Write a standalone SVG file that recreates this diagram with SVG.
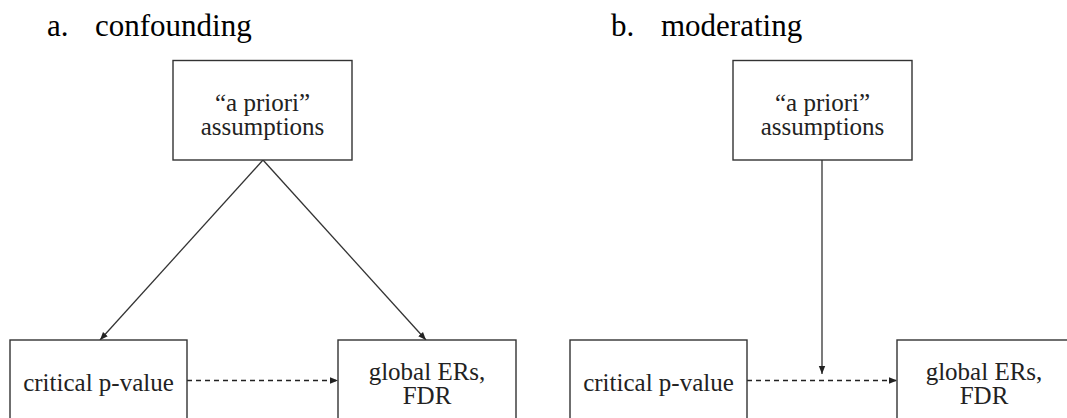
<svg xmlns="http://www.w3.org/2000/svg" width="1067" height="418" viewBox="0 0 1067 418">
<style>
.box{fill:#fff;stroke:#333;stroke-width:1.4}
.t{font-family:"Liberation Serif",serif;font-size:25px;fill:#222;text-anchor:middle}
.title{font-family:"Liberation Serif",serif;font-size:31px;fill:#000}
.c{fill:none;stroke:#333;stroke-width:1.3}
.d{fill:none;stroke:#222;stroke-width:1.3;stroke-dasharray:5 4}
</style>
<defs>
<marker id="ah" viewBox="0 0 10 10" refX="10" refY="5" markerWidth="8" markerHeight="8" markerUnits="userSpaceOnUse" orient="auto">
<path d="M0,1 L10,5 L0,9 z" fill="#222"/>
</marker>
</defs>
<rect width="1067" height="418" fill="#fff"/>
<text class="title" x="47" y="36">a.</text>
<text class="title" x="95" y="36">confounding</text>
<text class="title" x="611" y="36">b.</text>
<text class="title" x="661" y="36">moderating</text>
<g id="connectors">
<line class="c" x1="263" y1="160" x2="100" y2="340" marker-end="url(#ah)"/>
<line class="c" x1="263" y1="160" x2="426" y2="340" marker-end="url(#ah)"/>
<line class="d" x1="187" y1="380.5" x2="338" y2="380.5" marker-end="url(#ah)"/>
<line class="c" x1="822" y1="160" x2="822" y2="374" marker-end="url(#ah)"/>
<line class="d" x1="747" y1="380.5" x2="897" y2="380.5" marker-end="url(#ah)"/>
</g>
<g id="a-assumptions">
<rect class="box" x="173" y="60.5" width="179" height="99.5"/>
<text class="t" x="262.5" y="111">“a priori”</text>
<text class="t" x="262.5" y="135">assumptions</text>
</g>
<g id="a-critical">
<rect class="box" x="10" y="340" width="177" height="100"/>
<text class="t" x="98.5" y="391">critical p-value</text>
</g>
<g id="a-global">
<rect class="box" x="338" y="340" width="178" height="100"/>
<text class="t" x="427" y="380">global ERs,</text>
<text class="t" x="427" y="404">FDR</text>
</g>
<g id="b-assumptions">
<rect class="box" x="733" y="60.5" width="179" height="99.5"/>
<text class="t" x="822.5" y="111">“a priori”</text>
<text class="t" x="822.5" y="135">assumptions</text>
</g>
<g id="b-critical">
<rect class="box" x="570" y="340" width="177" height="100"/>
<text class="t" x="658.5" y="391">critical p-value</text>
</g>
<g id="b-global">
<rect class="box" x="897" y="340" width="178" height="100"/>
<text class="t" x="984" y="380">global ERs,</text>
<text class="t" x="984" y="404">FDR</text>
</g>
</svg>
